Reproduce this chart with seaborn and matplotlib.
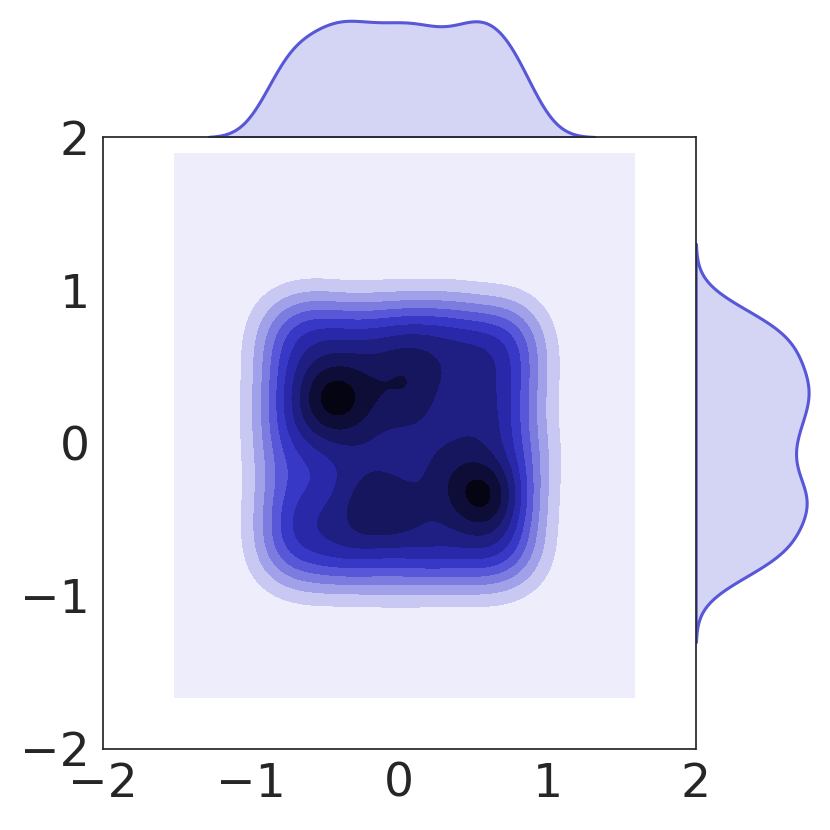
import matplotlib
matplotlib.use("Agg")
import numpy as np
import pandas as pd
import seaborn as sns
import matplotlib.pyplot as plt
from seaborn._statistics import KDE
from seaborn.utils import set_hls_values

# Estimated sample points
x_vals = [
    -0.77, -0.57, -0.40, -0.18, 0.03, 0.21, 0.38, 0.60, 0.78,
    -0.79, -0.59, -0.37, -0.21, 0.01, 0.18, 0.40, 0.57, 0.80,
    -0.77, -0.58, -0.40, -0.19, -0.02, 0.20, 0.39, 0.59, 0.79,
    -0.78, -0.60, -0.38, -0.20, 0.02, 0.19, 0.44, 0.58, 0.77,
    -0.79, -0.57, -0.39, -0.18, 0.01, 0.21, 0.38, 0.60, 0.82,
    -0.77, -0.40, -0.21, -0.01, 0.19, 0.40, 0.57, 0.78,
    -0.78, -0.58, -0.38, -0.19, 0.02, 0.20, 0.39, 0.59, 0.79,
    -0.77, -0.60, -0.39, -0.20, 0.00, 0.18, 0.41, 0.58, 0.77,
    -0.79, -0.57, -0.37, -0.19, 0.03, 0.21, 0.38, 0.59, 0.78,
    -0.45, -0.44, 0.05, 0.60, 0.55, -0.15,
]
y_vals = [
    0.78, 0.81, 0.75, 0.79, 0.78, 0.76, 0.80, 0.74, 0.77,
    0.58, 0.61, 0.56, 0.59, 0.62, 0.57, 0.60, 0.55, 0.59,
    0.38, 0.41, 0.36, 0.40, 0.39, 0.37, 0.42, 0.38, 0.40,
    0.20, 0.17, 0.21, 0.19, 0.22, 0.18, 0.17, 0.16, 0.21,
    0.01, -0.02, 0.02, -0.01, 0.03, -0.03, 0.00, 0.02, -0.02,
    -0.19, -0.18, -0.20, -0.17, -0.21, -0.19, -0.23, -0.18,
    -0.40, -0.37, -0.41, -0.38, -0.42, -0.39, -0.36, -0.40, -0.38,
    -0.59, -0.57, -0.61, -0.58, -0.56, -0.60, -0.57, -0.62, -0.58,
    -0.77, -0.80, -0.76, -0.79, -0.81, -0.75, -0.78, -0.80, -0.76,
    0.30, 0.28, 0.42, -0.35, -0.32, -0.42,
]

tick_values = [-2, -1, 0, 1, 2]
tick_labels = ["\u22122", "\u22121", "0", "1", "2"]

# density evaluation grid extent (read from the shaded rectangle)
grid_x_range = (-1.514, 1.589)
grid_y_range = (-1.667, 1.895)

base_color = "#5757d7"
n_levels = 10

sns.set_theme(style="white")
plt.rcParams['font.family'] = ['DejaVu Sans']

df = pd.DataFrame({"x": x_vals, "y": y_vals})

# white -> color -> black colormap
cmap = sns.blend_palette(
    [set_hls_values(base_color, l=l) for l in np.linspace(1, 0, 12)],
    as_cmap=True,
)

g = sns.JointGrid(data=df, x="x", y="y", height=8.3, ratio=5, space=0,
                  xlim=(-2, 2), ylim=(-2, 2))

est = KDE(bw_adjust=0.75)
est.support = (np.linspace(*grid_x_range, 120), np.linspace(*grid_y_range, 120))
density, (xx, yy) = est(df["x"].to_numpy(), df["y"].to_numpy())
g.ax_joint.contourf(xx, yy, density, levels=n_levels, cmap=cmap)

g.plot_marginals(sns.kdeplot, fill=True, color=base_color,
                 bw_adjust=0.8, linewidth=2.2)

g.ax_joint.set_xlim(-2, 2)
g.ax_joint.set_ylim(-2, 2)
g.ax_joint.set_xlabel("")
g.ax_joint.set_ylabel("")
g.ax_joint.set_xticks(tick_values)
g.ax_joint.set_xticklabels(tick_labels)
g.ax_joint.set_yticks(tick_values)
g.ax_joint.set_yticklabels(tick_labels)
g.ax_joint.tick_params(labelsize=34)
for s in g.ax_joint.spines.values():
    s.set_color("#262626")

g.figure.subplots_adjust(left=0.124, right=0.981, bottom=0.098, top=0.982)
g.figure.savefig("out.png", dpi=100)
